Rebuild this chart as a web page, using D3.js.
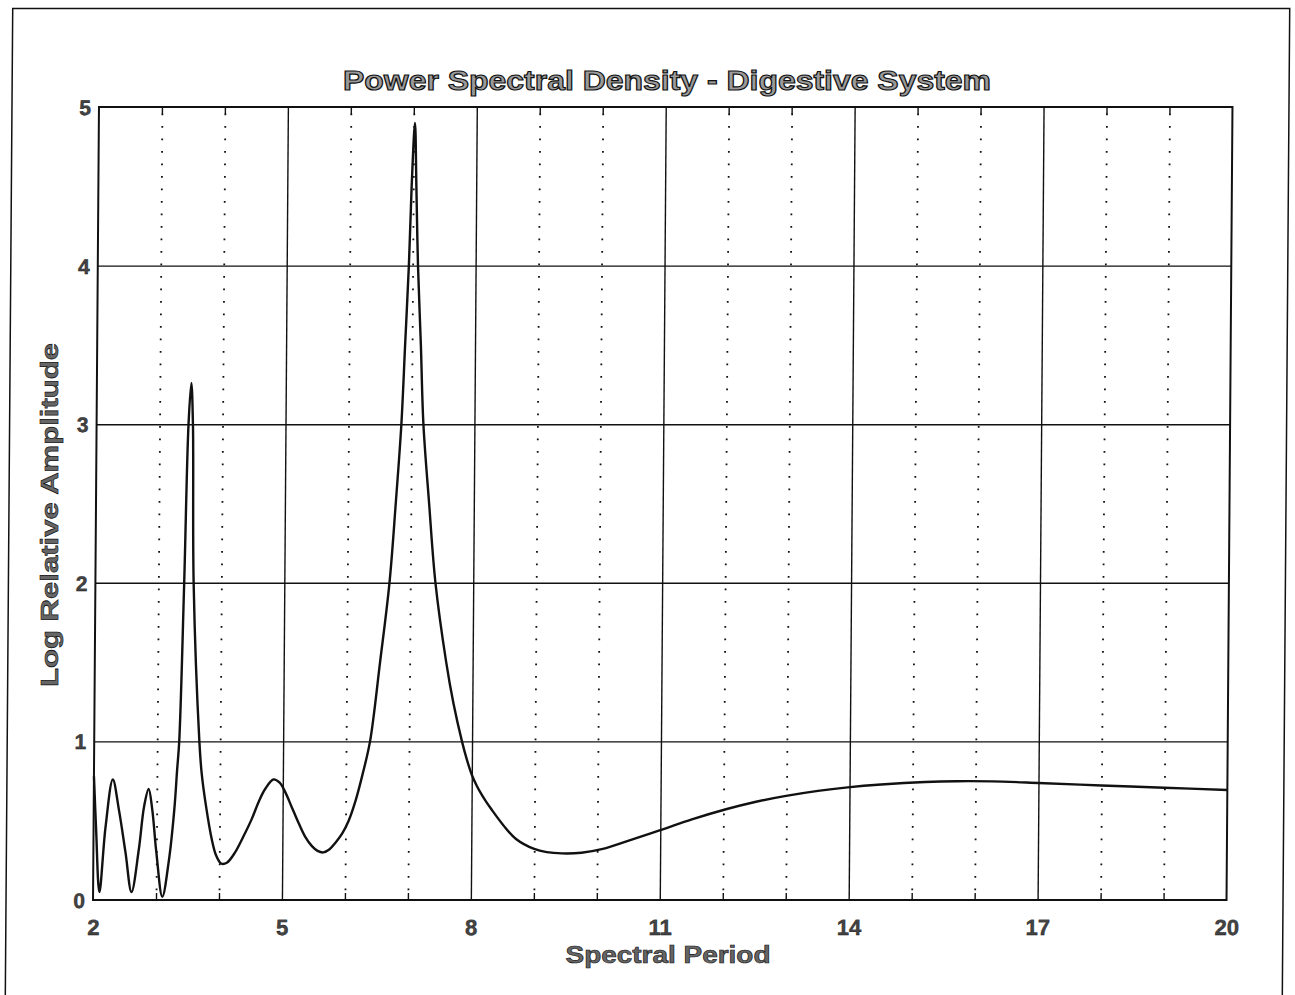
<!DOCTYPE html>
<html>
<head>
<meta charset="utf-8">
<script src="https://cdn.jsdelivr.net/npm/d3@7"></script>
<style>
  html, body { margin: 0; padding: 0; background: #fff; }
  svg { display: block; }
  text { font-family: "Liberation Sans", Arial, Helvetica, sans-serif; }
</style>
</head>
<body>
<script>
// ---- data ----
const periods = [2.00, 2.04, 2.10, 2.19, 2.30, 2.40, 2.51, 2.61, 2.72, 2.80, 2.87, 2.93, 3.00, 3.10, 3.20, 3.28, 3.32, 3.35, 3.41, 3.46, 3.50, 3.53, 3.56, 3.67, 3.71, 3.78, 3.88, 3.95, 4.03, 4.12, 4.25, 4.38, 4.51, 4.62, 4.72, 4.85, 4.95, 5.04, 5.14, 5.25, 5.36, 5.47, 5.56, 5.65, 5.75, 5.84, 5.95, 6.05, 6.16, 6.27, 6.38, 6.53, 6.67, 6.76, 6.84, 6.89, 6.94, 6.975, 7.02, 7.05, 7.085, 7.14, 7.19, 7.29, 7.40, 7.58, 7.70, 7.84, 7.92, 8.00, 8.08, 8.15, 8.23, 8.31, 8.50, 8.71, 9.00, 9.20, 9.44, 9.75, 10.09, 10.50, 11.00, 11.50, 12.04, 12.50, 12.97, 13.50, 13.97, 14.50, 15.20, 15.70, 16.26, 17.00, 18.00, 19.00, 20.00];
const amplitudes = [0.78, 0.45, 0.05, 0.46, 0.76, 0.57, 0.30, 0.05, 0.315, 0.59, 0.70, 0.57, 0.30, 0.02, 0.25, 0.57, 0.82, 1.00, 2.00, 3.00, 3.26, 3.00, 2.00, 1.00, 0.80, 0.60, 0.38, 0.28, 0.23, 0.235, 0.30, 0.40, 0.51, 0.62, 0.70, 0.76, 0.74, 0.68, 0.59, 0.49, 0.40, 0.34, 0.31, 0.30, 0.32, 0.36, 0.42, 0.50, 0.63, 0.80, 1.00, 1.50, 2.00, 2.50, 3.00, 3.50, 4.00, 4.50, 4.90, 4.50, 4.00, 3.50, 3.00, 2.50, 2.00, 1.50, 1.24, 1.00, 0.885, 0.79, 0.72, 0.67, 0.62, 0.575, 0.475, 0.385, 0.322, 0.302, 0.294, 0.298, 0.322, 0.375, 0.44, 0.508, 0.572, 0.618, 0.655, 0.688, 0.71, 0.728, 0.744, 0.749, 0.748, 0.738, 0.722, 0.708, 0.694];
const xTickLabels = [2, 5, 8, 11, 14, 17, 20];
const xMajorGrid = [5, 8, 11, 14, 17];
const xMinorGrid = [3, 4, 6, 7, 9, 10, 12, 13, 15, 16, 18, 19];
const yTickLabels = [0, 1, 2, 3, 4, 5];
const yMajorGrid = [1, 2, 3, 4];
const titleText = "Power Spectral Density - Digestive System";
const xTitle = "Spectral Period";
const yTitle = "Log Relative Amplitude";

// ---- layout ----
const W = 1295, H = 995;
const L = 96, R = 1229.5, T = 107, B = 900;
const skewCenter = 503;

const svg = d3.select("body").append("svg").attr("width", W).attr("height", H);
svg.append("rect").attr("width", W).attr("height", H).attr("fill", "#fff");

const g = svg.append("g")
  .attr("transform", `translate(0,${skewCenter}) skewX(-0.43) translate(0,${-skewCenter})`);

// outer border (scanned page frame)
g.append("path")
  .attr("d", `M9,1000 L9,8.5 L1286,8.5 L1286,1000`)
  .attr("fill", "none").attr("stroke", "#111").attr("stroke-width", 1.5);

const x = d3.scaleLinear().domain([2, 20]).range([L, R]);
const y = d3.scaleLinear().domain([0, 5]).range([B, T]);

// dotted minor verticals
const minorAxis = g.append("g").attr("transform", `translate(0,${B})`)
  .call(d3.axisBottom(x).tickValues(xMinorGrid).tickSize(-(B - T)).tickFormat(""));
minorAxis.select(".domain").remove();
minorAxis.selectAll(".tick line")
  .attr("stroke", "#111").attr("stroke-width", 1.8)
  .attr("stroke-dasharray", "1.8 10.7").attr("stroke-dashoffset", 2.7);

// short ticks at top and bottom for the minor lines
const minorBottom = g.append("g").attr("transform", `translate(0,${B})`)
  .call(d3.axisBottom(x).tickValues(xMinorGrid).tickSize(-7).tickFormat(""));
minorBottom.select(".domain").remove();
minorBottom.selectAll(".tick line").attr("stroke", "#111").attr("stroke-width", 1.4);
const minorTop = g.append("g").attr("transform", `translate(0,${T})`)
  .call(d3.axisTop(x).tickValues(xMinorGrid).tickSize(-7).tickFormat(""));
minorTop.select(".domain").remove();
minorTop.selectAll(".tick line").attr("stroke", "#111").attr("stroke-width", 1.4);

// solid major verticals
const majorX = g.append("g").attr("transform", `translate(0,${B})`)
  .call(d3.axisBottom(x).tickValues(xMajorGrid).tickSize(-(B - T)).tickFormat(""));
majorX.select(".domain").remove();
majorX.selectAll(".tick line").attr("stroke", "#111").attr("stroke-width", 1.4);

// solid major horizontals
const majorY = g.append("g").attr("transform", `translate(${L},0)`)
  .call(d3.axisLeft(y).tickValues(yMajorGrid).tickSize(-(R - L)).tickFormat(""));
majorY.select(".domain").remove();
majorY.selectAll(".tick line").attr("stroke", "#111").attr("stroke-width", 1.4);

// frame
g.append("rect")
  .attr("x", L).attr("y", T).attr("width", R - L).attr("height", B - T)
  .attr("fill", "none").attr("stroke", "#111").attr("stroke-width", 2);

// curve
const line = d3.line()
  .x((d, i) => x(periods[i]))
  .y((d, i) => y(Math.max(0, amplitudes[i])))
  .curve(d3.curveCatmullRom.alpha(0.5));
g.append("path")
  .datum(periods)
  .attr("d", line)
  .attr("fill", "none").attr("stroke", "#111").attr("stroke-width", 2.4)
  .attr("stroke-linejoin", "round");

// x tick labels
const xLab = g.append("g").attr("transform", `translate(0,${B})`)
  .call(d3.axisBottom(x).tickValues(xTickLabels).tickSize(0).tickFormat(d3.format("d")));
xLab.select(".domain").remove();
xLab.selectAll(".tick text")
  .attr("y", 35).attr("dy", 0)
  .attr("font-size", 22).attr("font-weight", "bold")
  .attr("fill", "#444").attr("stroke", "#111").attr("stroke-width", 0.4)
  .attr("font-family", "'Liberation Sans', Arial, sans-serif");

// y tick labels
const yLab = g.append("g").attr("transform", `translate(${L},0)`)
  .call(d3.axisLeft(y).tickValues(yTickLabels).tickSize(0).tickPadding(8).tickFormat(d3.format("d")));
yLab.select(".domain").remove();
yLab.selectAll(".tick text")
  .attr("dy", "0.36em")
  .attr("font-size", 21).attr("font-weight", "bold")
  .attr("fill", "#444").attr("stroke", "#111").attr("stroke-width", 0.4)
  .attr("font-family", "'Liberation Sans', Arial, sans-serif");

// title
svg.append("text")
  .attr("x", 667).attr("y", 90)
  .attr("text-anchor", "middle")
  .attr("font-size", 27).attr("font-weight", "bold")
  .attr("textLength", 648).attr("lengthAdjust", "spacingAndGlyphs")
  .attr("fill", "#9a9a9a").attr("stroke", "#111").attr("stroke-width", 1.1)
  .text(titleText);

// x axis title
svg.append("text")
  .attr("x", 668).attr("y", 963)
  .attr("text-anchor", "middle")
  .attr("font-size", 23).attr("font-weight", "bold")
  .attr("textLength", 205).attr("lengthAdjust", "spacingAndGlyphs")
  .attr("fill", "#666").attr("stroke", "#111").attr("stroke-width", 0.6)
  .text(xTitle);

// y axis title
svg.append("text")
  .attr("transform", "translate(58,515) rotate(-90)")
  .attr("text-anchor", "middle")
  .attr("font-size", 23).attr("font-weight", "bold")
  .attr("textLength", 344).attr("lengthAdjust", "spacingAndGlyphs")
  .attr("fill", "#666").attr("stroke", "#111").attr("stroke-width", 0.6)
  .text(yTitle);
</script>
</body>
</html>
